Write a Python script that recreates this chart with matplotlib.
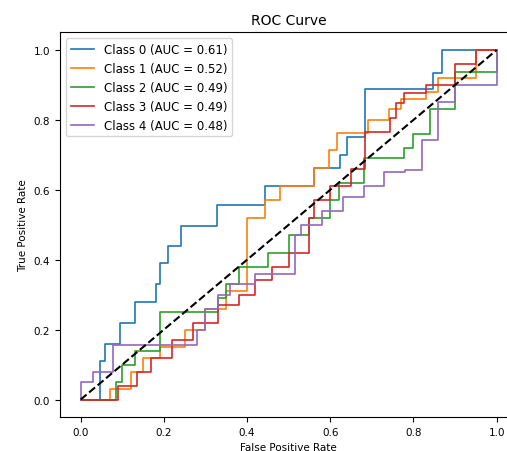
import matplotlib
matplotlib.use("Agg")
import matplotlib.pyplot as plt

labels = ["Class 0 (AUC = 0.61)", "Class 1 (AUC = 0.52)", "Class 2 (AUC = 0.49)",
          "Class 3 (AUC = 0.49)", "Class 4 (AUC = 0.48)"]

# roc corners (drawn as steps-post)
fpr0 = [0, 0.046, 0.058, 0.095, 0.13, 0.18, 0.19, 0.21, 0.24, 0.327, 0.443, 0.56, 0.623, 0.64, 0.683, 0.847, 0.868, 1.0]
tpr0 = [0, 0.11, 0.16, 0.22, 0.28, 0.33, 0.39, 0.44, 0.495, 0.557, 0.61, 0.663, 0.70, 0.752, 0.888, 0.934, 1.0, 1.0]

fpr1 = [0, 0.07, 0.12, 0.15, 0.19, 0.25, 0.30, 0.35, 0.40, 0.443, 0.48, 0.56, 0.596, 0.615, 0.69, 0.74, 0.77, 0.83, 0.86, 0.95, 1.0]
tpr1 = [0, 0.03, 0.08, 0.12, 0.15, 0.20, 0.26, 0.31, 0.52, 0.57, 0.61, 0.663, 0.714, 0.762, 0.80, 0.83, 0.86, 0.88, 0.92, 1.0, 1.0]

fpr2 = [0, 0.085, 0.10, 0.13, 0.19, 0.33, 0.35, 0.38, 0.45, 0.50, 0.55, 0.60, 0.62, 0.68, 0.776, 0.80, 0.84, 0.90, 1.0]
tpr2 = [0, 0.05, 0.10, 0.14, 0.25, 0.29, 0.33, 0.38, 0.42, 0.47, 0.52, 0.57, 0.62, 0.69, 0.72, 0.76, 0.83, 0.938, 1.0]

fpr3 = [0, 0.09, 0.135, 0.17, 0.22, 0.27, 0.33, 0.38, 0.42, 0.46, 0.50, 0.55, 0.56, 0.60, 0.65, 0.683, 0.743, 0.758, 0.776, 0.83, 0.90, 0.95, 1.0]
tpr3 = [0, 0.04, 0.08, 0.12, 0.17, 0.22, 0.27, 0.30, 0.343, 0.38, 0.42, 0.52, 0.57, 0.61, 0.66, 0.764, 0.805, 0.848, 0.877, 0.90, 0.96, 1.0, 1.0]

fpr4 = [0, 0, 0.03, 0.078, 0.28, 0.30, 0.33, 0.36, 0.42, 0.515, 0.53, 0.58, 0.63, 0.68, 0.73, 0.78, 0.82, 0.86, 0.90, 1.0]
tpr4 = [0, 0.05, 0.08, 0.157, 0.20, 0.26, 0.30, 0.33, 0.36, 0.47, 0.50, 0.54, 0.58, 0.61, 0.65, 0.657, 0.743, 0.85, 0.90, 1.0]

fprs = [fpr0, fpr1, fpr2, fpr3, fpr4]
tprs = [tpr0, tpr1, tpr2, tpr3, tpr4]

fig = plt.figure(figsize=(5.07, 4.52), dpi=100)
ax = fig.add_axes([0.1181, 0.0752, 0.9026, 0.8507])

for f, t, lab in zip(fprs, tprs, labels):
    ax.plot(f, t, drawstyle="steps-post", lw=1.2, label=lab)
ax.plot([0, 1], [0, 1], "k--", lw=1.5)

ax.set_title("ROC Curve", fontsize=10)
ax.set_xlabel("False Positive Rate", fontsize=7.5)
ax.set_ylabel("True Positive Rate", fontsize=7.5)
ax.tick_params(labelsize=7.5)
ax.legend(loc="upper left", fontsize=8.5)

fig.savefig("out.png", dpi=100)
